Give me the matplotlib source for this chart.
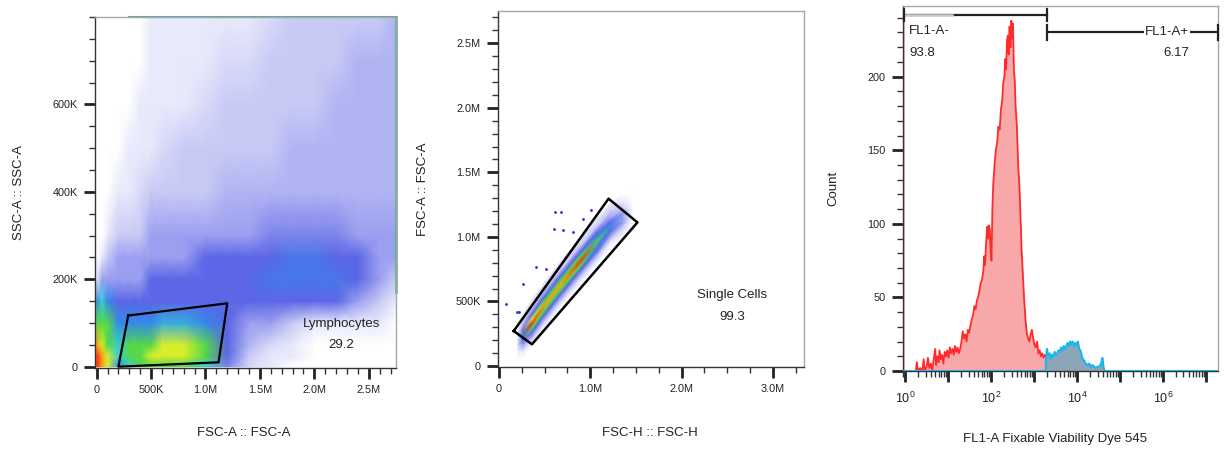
import matplotlib
matplotlib.use("Agg")
import matplotlib.pyplot as plt
import numpy as np
from matplotlib.colors import LinearSegmentedColormap
from matplotlib.ticker import FixedLocator, MultipleLocator, FuncFormatter, NullFormatter, LogLocator

plt.rcParams["font.family"] = ["Liberation Sans", "DejaVu Sans"]

# ── Data ─────────────────────────────────────────────────────────────────────
# density level 0 (empty) .. 10 (red)
dens_colors = ["#ffffff", "#e8e9fb", "#c8caf5", "#9a9ef0", "#5c66e6", "#3488ec",
               "#38d0d0", "#52d84a", "#d8ee2a", "#ff9e1a", "#ff2a10"]

# panel 1: FSC-A vs SSC-A, density at grid nodes
fsc_nodes = [0, 50e3, 100e3, 200e3, 300e3, 400e3, 500e3, 600e3, 800e3, 1.0e6,
             1.2e6, 1.4e6, 1.6e6, 1.8e6, 2.0e6, 2.2e6, 2.4e6, 2.6e6, 2.75e6]
ssc_nodes = [0, 25e3, 50e3, 100e3, 150e3, 200e3, 250e3, 300e3, 400e3, 500e3,
             600e3, 700e3, 800e3]
scatter_dens = [
    [10, 9, 8, 5, 6, 7, 7, 7, 7, 6, 3.5, 1.5, 1, 0, 0, 0, 0, 0, 0],
    [10, 9, 8, 6, 7, 7, 8, 8, 8, 7, 4, 2, 1, 1, 0, 0, 0, 0, 0],
    [9, 8, 7, 6, 7, 7, 7, 8, 8, 7, 4, 2.5, 1.5, 1, 0, 0, 0, 0, 0],
    [7, 7, 7, 5, 5, 5, 5, 5.5, 5.5, 5, 4, 3, 3, 2, 1, 1, 1, 1, 0],
    [5, 6, 5, 4, 4, 4, 4, 4, 4, 4, 4, 4, 4, 4, 4, 4, 3, 2, 1],
    [1, 3, 3, 3, 3, 3, 4, 4, 4, 4, 4, 4, 4.5, 4.5, 4.5, 4.5, 4, 3, 2],
    [0, 1, 2, 3, 3, 3, 3, 3, 3, 4, 4, 4, 4, 4.5, 4.5, 4, 4, 3, 3],
    [0, 0, 1, 2, 2, 2, 3, 3, 3, 3, 3, 3, 3.5, 3.5, 3.5, 3.5, 3, 3, 3],
    [0, 0, 0, 1, 1, 1.5, 2, 2, 2, 2, 2.5, 2.5, 2.5, 2.5, 2.5, 2.5, 2.5, 2.5, 2.5],
    [0, 0, 0, 0, 1, 1, 1, 1.5, 2, 2, 2, 2, 2, 2.5, 2.5, 2.5, 2.5, 2.5, 2.5],
    [0, 0, 0, 0, 0, 1, 1, 1, 1, 1.5, 2, 2, 2, 2, 2, 2.5, 2.5, 2.5, 2.5],
    [0, 0, 0, 0, 0, 0, 1, 1, 1, 1, 1.5, 1.5, 2, 2, 2, 2, 2.5, 2.5, 2.5],
    [0, 0, 0, 0, 0, 0, 1, 1, 1, 1, 1, 1, 1.5, 2, 2, 2, 2, 2, 2.5],
]
sat_top_x = [0.3e6, 2.75e6]
sat_right_y = [170e3, 800e3]
lymph_gate_x = [290e3, 1.2e6, 1.12e6, 200e3, 290e3]
lymph_gate_y = [117e3, 145e3, 10e3, 0, 117e3]

# panel 2: FSC-H vs FSC-A, band along a centreline
band_cx = [0.20e6, 0.26e6, 0.36e6, 0.50e6, 0.70e6, 0.90e6, 1.08e6, 1.22e6, 1.36e6, 1.46e6]
band_cy = [0.19e6, 0.24e6, 0.33e6, 0.47e6, 0.65e6, 0.82e6, 0.97e6, 1.08e6, 1.15e6, 1.18e6]
band_dy = [-0.18e6, -0.12e6, -0.07e6, -0.035e6, 0, 0.035e6, 0.07e6, 0.12e6, 0.18e6]
band_dens = [
    [0, 0, 0, 0, 0, 0, 0, 0, 0],
    [0, 1, 3, 4, 5, 4, 3, 1, 0],
    [0, 2, 4, 7, 10, 8, 4, 2, 1],
    [0, 2, 4, 7, 9, 7, 4, 2, 1],
    [0, 2, 4, 7, 9, 7, 4, 2, 1],
    [0, 2, 4, 7, 10, 7, 4, 2, 1],
    [0, 2, 4, 5, 7, 5, 4, 2, 1],
    [0, 1, 3, 4, 5, 4, 3, 2, 1],
    [0, 1, 2, 3, 3, 3, 2, 1, 0],
    [0, 0, 0, 0, 0, 0, 0, 0, 0],
]
outlier_x = [0.081e6, 0.61e6, 0.683e6, 0.599e6, 0.409e6, 0.519e6, 0.263e6, 0.197e6,
             0.70e6, 0.81e6, 0.92e6, 1.01e6, 0.22e6]
outlier_y = [0.483e6, 1.19e6, 1.19e6, 1.063e6, 0.766e6, 0.754e6, 0.638e6, 0.418e6,
             1.05e6, 1.037e6, 1.14e6, 1.205e6, 0.42e6]
single_gate_x = [0.161e6, 1.20e6, 1.516e6, 0.361e6, 0.161e6]
single_gate_y = [0.271e6, 1.296e6, 1.112e6, 0.168e6, 0.271e6]

# panel 3: FL1-A histogram (log10 of intensity, count)
red_logx = [-0.04, -0.04, 0.20, 0.25, 0.27, 0.30, 0.35, 0.40, 0.43, 0.46, 0.50, 0.53,
            0.56, 0.60, 0.63, 0.66, 0.70, 0.72, 0.75, 0.78, 0.80, 0.83, 0.86, 0.89,
            0.92, 0.95, 0.98, 1.01, 1.04, 1.07, 1.10, 1.13, 1.16, 1.19, 1.22, 1.25,
            1.28, 1.31, 1.34, 1.37, 1.40, 1.43, 1.46, 1.49, 1.52, 1.55, 1.58, 1.61,
            1.64, 1.67, 1.70, 1.73, 1.76, 1.79, 1.82, 1.84, 1.86, 1.88, 1.91, 1.93,
            1.95, 1.97, 1.99, 2.01, 2.03, 2.05, 2.08, 2.11, 2.14, 2.17, 2.20, 2.23,
            2.26, 2.28, 2.31, 2.33, 2.35, 2.37, 2.39, 2.41, 2.43, 2.45, 2.47, 2.49,
            2.51, 2.53, 2.55, 2.57, 2.60, 2.63, 2.66, 2.69, 2.71, 2.74, 2.77, 2.80,
            2.83, 2.86, 2.89, 2.92, 2.95, 2.98, 3.01, 3.04, 3.07, 3.10, 3.13, 3.16,
            3.19, 3.22, 3.25, 3.28]
red_count = [260, 0, 0, 0, 6, 0, 2, 0, 8, 0, 3, 9,
             2, 5, 0, 7, 15, 4, 10, 6, 14, 8, 11, 5,
             13, 10, 14, 9, 16, 12, 15, 11, 17, 13, 16, 12,
             15, 20, 27, 22, 25, 20, 28, 26, 31, 35, 38, 44,
             42, 48, 50, 55, 60, 62, 68, 78, 72, 85, 98, 90,
             99, 96, 80, 75, 110, 127, 140, 150, 155, 166, 164, 178,
             184, 195, 200, 212, 205, 225, 228, 215, 234, 220, 238, 226,
             236, 205, 198, 180, 166, 140, 125, 100, 82, 65, 48, 35,
             26, 22, 20, 25, 28, 22, 18, 16, 20, 12, 14, 10,
             12, 9, 11, 9]
blue_logx = [-0.04, 3.27, 3.28, 3.30, 3.33, 3.36, 3.39, 3.42, 3.45, 3.48, 3.51, 3.54,
             3.57, 3.60, 3.63, 3.66, 3.69, 3.72, 3.75, 3.78, 3.81, 3.84, 3.87, 3.90,
             3.93, 3.96, 3.99, 4.02, 4.05, 4.08, 4.11, 4.14, 4.17, 4.20, 4.24, 4.28,
             4.32, 4.36, 4.40, 4.44, 4.48, 4.52, 4.56, 4.59, 4.62, 4.65, 7.28]
blue_count = [0, 0, 9, 15, 10, 12, 8, 11, 10, 13, 11, 12,
              14, 13, 16, 14, 17, 15, 17, 19, 17, 20, 18, 20,
              17, 19, 18, 20, 15, 14, 10, 8, 7, 5, 4, 5,
              3, 4, 3, 2, 3, 3, 5, 9, 2, 0, 0]
neg_gate_logx = [-0.02, 3.30]
pos_gate_logx = [3.30, 7.27]

# ── Figure ───────────────────────────────────────────────────────────────────
W, H = 1226, 459
fig = plt.figure(figsize=(W / 100, H / 100), dpi=100)


def px_axes(l, t, r, b):
    return fig.add_axes([l / W, 1 - b / H, (r - l) / W, (b - t) / H])


def km(v, pos=None):
    if v == 0:
        return "0"
    if abs(v) < 1e6:
        return f"{v / 1e3:.0f}K"
    return f"{v / 1e6:.1f}M"


def style(ax):
    for s in ("top", "right"):
        ax.spines[s].set_color("#a8a8a8")
    for s in ("left", "bottom"):
        ax.spines[s].set_color("#333333")
    for s in ax.spines.values():
        s.set_linewidth(1)
    ax.tick_params(which="major", length=8, width=2, color="#222222",
                   labelsize=7.8, labelcolor="#222222", pad=4.5)
    ax.tick_params(which="minor", length=4, width=1, color="#333333")


cmap = LinearSegmentedColormap.from_list("flow", dens_colors)
TXT = dict(fontsize=9.5, color="#222222")

# panel 1
ax1 = px_axes(95, 17, 396, 368)
X1, Y1 = np.meshgrid(fsc_nodes, ssc_nodes)
ax1.pcolormesh(X1, Y1, np.array(scatter_dens, float), cmap=cmap, vmin=0, vmax=10,
               shading="gouraud", zorder=1)
ax1.plot(sat_top_x, [800e3, 800e3], color="#5aa8a0", lw=1.5, clip_on=False, zorder=2)
ax1.plot([2.75e6, 2.75e6], sat_right_y, color="#4aac78", lw=1.8, clip_on=False, zorder=2)
ax1.plot(lymph_gate_x, lymph_gate_y, color="black", lw=1.6, zorder=3)
ax1.text(2.25e6, 98e3, "Lymphocytes", ha="center", va="center", **TXT)
ax1.text(2.25e6, 49e3, "29.2", ha="center", va="center", **TXT)
ax1.set_xlim(-15e3, 2.75e6)
ax1.set_ylim(-3e3, 800e3)
ax1.xaxis.set_major_locator(FixedLocator([0, 0.5e6, 1.0e6, 1.5e6, 2.0e6, 2.5e6]))
ax1.xaxis.set_minor_locator(MultipleLocator(100e3))
ax1.yaxis.set_major_locator(FixedLocator([0, 200e3, 400e3, 600e3]))
ax1.yaxis.set_minor_locator(MultipleLocator(50e3))
ax1.xaxis.set_major_formatter(FuncFormatter(km))
ax1.yaxis.set_major_formatter(FuncFormatter(km))
style(ax1)

# panel 2
ax2 = px_axes(498, 11, 804, 367)
bx = np.repeat(np.array(band_cx)[:, None], len(band_dy), axis=1)
by = np.array(band_cy)[:, None] + np.array(band_dy)[None, :]
ax2.pcolormesh(bx, by, np.array(band_dens, float), cmap=cmap, vmin=0, vmax=10,
               shading="gouraud", zorder=1)
ax2.scatter(outlier_x, outlier_y, s=4, color="#2a2ae0", lw=0, zorder=2)
ax2.plot(single_gate_x, single_gate_y, color="black", lw=1.8, zorder=3)
ax2.text(2.556e6, 0.547e6, "Single Cells", ha="center", va="center", **TXT)
ax2.text(2.556e6, 0.379e6, "99.3", ha="center", va="center", **TXT)
ax2.set_xlim(-11e3, 3.34e6)
ax2.set_ylim(-8e3, 2.75e6)
ax2.xaxis.set_major_locator(FixedLocator([0, 1e6, 2e6, 3e6]))
ax2.xaxis.set_minor_locator(MultipleLocator(250e3))
ax2.yaxis.set_major_locator(FixedLocator([0, 0.5e6, 1e6, 1.5e6, 2e6, 2.5e6]))
ax2.yaxis.set_minor_locator(MultipleLocator(100e3))
ax2.xaxis.set_major_formatter(FuncFormatter(km))
ax2.yaxis.set_major_formatter(FuncFormatter(km))
style(ax2)

# panel 3
ax3 = px_axes(903, 6, 1218, 371)
ax3.set_xscale("log")
red_x = 10 ** np.array(red_logx)
blue_x = 10 ** np.array(blue_logx)
ax3.fill_between(red_x, red_count, 0, color="#f8a8a8", lw=0, zorder=1)
ax3.plot(red_x, red_count, color="#ff2b2b", lw=1.3, zorder=2)
ax3.fill_between(blue_x, blue_count, 0, color="#8ca5b8", lw=0, zorder=1)
ax3.plot(blue_x, blue_count, color="#19b5ec", lw=1.5, zorder=3)

gx = 10 ** np.array(neg_gate_logx)
ax3.plot(gx, [242, 242], color="#222222", lw=1.6, zorder=4)
ax3.plot([gx[0], 10 ** 1.1], [242, 242], color="#cccccc", lw=1.8, zorder=4)
for xv in gx:
    ax3.plot([xv, xv], [238, 246], color="#222222", lw=1.6, zorder=4, clip_on=False)
px_ = 10 ** np.array(pos_gate_logx)
ax3.plot(px_, [230, 230], color="#222222", lw=1.6, zorder=4)
for xv in px_:
    ax3.plot([xv, xv], [225, 235], color="#222222", lw=1.6, zorder=4, clip_on=False)
ax3.text(10 ** 0.09, 231, "FL1-A-", ha="left", va="center", **TXT)
ax3.text(10 ** 0.09, 216, "93.8", ha="left", va="center", **TXT)
ax3.text(10 ** 6.09, 230, "FL1-A+", ha="center", va="center", zorder=5,
         bbox=dict(facecolor="white", edgecolor="none", pad=0.5), **TXT)
ax3.text(10 ** 6.3, 216, "6.17", ha="center", va="center", **TXT)

ax3.set_xlim(10 ** -0.05, 10 ** 7.28)
ax3.set_ylim(0, 248)
decades = [1, 10, 100, 1e3, 1e4, 1e5, 1e6, 1e7]
dec_labels = [r"$\mathregular{10^0}$", "", r"$\mathregular{10^2}$", "",
              r"$\mathregular{10^4}$", "", r"$\mathregular{10^6}$", ""]
ax3.xaxis.set_major_locator(FixedLocator(decades))
ax3.xaxis.set_minor_locator(LogLocator(base=10, subs=np.arange(2, 10), numticks=20))
ax3.xaxis.set_minor_formatter(NullFormatter())
ax3.yaxis.set_major_locator(FixedLocator([0, 50, 100, 150, 200]))
ax3.yaxis.set_minor_locator(MultipleLocator(10))
style(ax3)
ax3.set_xticklabels(dec_labels, fontsize=9)
ax3.tick_params(axis="x", which="major", pad=6)

# axis titles
LBL = dict(fontsize=9.5, color="#222222", ha="center", va="center")
fig.text(244 / W, 1 - 433 / H, "FSC-A :: FSC-A", **LBL)
fig.text(19 / W, 1 - 193 / H, "SSC-A :: SSC-A", rotation=90, **LBL)
fig.text(650 / W, 1 - 433 / H, "FSC-H :: FSC-H", **LBL)
fig.text(423 / W, 1 - 189 / H, "FSC-A :: FSC-A", rotation=90, **LBL)
fig.text(1055 / W, 1 - 439 / H, "FL1-A Fixable Viability Dye 545", **LBL)
fig.text(833 / W, 1 - 188 / H, "Count", rotation=90, **LBL)

fig.savefig("out.png", dpi=100, facecolor="white")
